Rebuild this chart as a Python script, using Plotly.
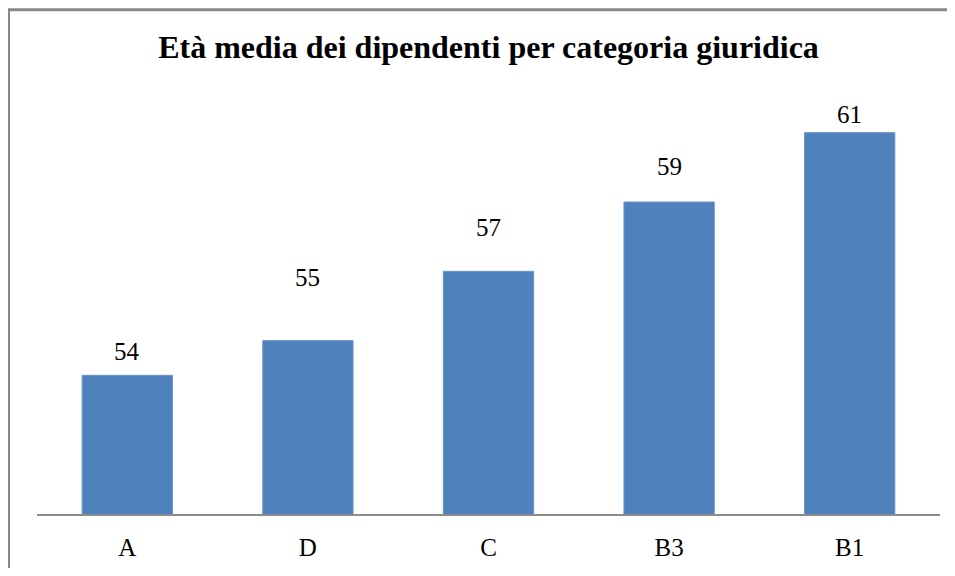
import plotly.graph_objects as go

categorie = ["A", "D", "C", "B3", "B1"]
eta_media = [54, 55, 57, 59, 61]
# distanza (px) delle etichette sopra la barra, come nell'originale
label_shift = [24, 63, 44, 36, 18]

FONT = "Liberation Serif"
# la pagina html ha 8px di margine: la figura sta tra (8, 8) e (947, 568)
W, H = 939, 560
L, R, T, B = 29, 7, 90, 48

fig = go.Figure()
fig.add_trace(go.Bar(
    x=categorie, y=eta_media,
    marker=dict(color="#4F81BD", line=dict(color="#6a94c8", width=1)),
    width=0.5, hoverinfo="x+y",
))

for cat, val, sh in zip(categorie, eta_media, label_shift):
    fig.add_annotation(x=cat, y=val, text=str(val), showarrow=False,
                       yanchor="middle", yshift=sh,
                       font=dict(family=FONT, size=25, color="black"))

# cornice grigia del grafico (esce a destra e in basso)
pw, ph = W - L - R, H - T - B
fig.add_shape(type="rect", xref="paper", yref="paper",
              x0=(0.5 - L) / pw, x1=1.2, y0=-0.3, y1=(H - B - 0.5) / ph,
              line=dict(color="#878787", width=3), layer="below")

fig.update_layout(
    width=W, height=H,
    margin=dict(l=L, r=R, t=T, b=B),
    paper_bgcolor="white", plot_bgcolor="white",
    showlegend=False,
    title=dict(text="<b>Età media dei dipendenti per categoria giuridica</b>",
               x=0.5, xref="paper", xanchor="center", y=1 - 39 / H, yanchor="middle",
               font=dict(family=FONT, size=32, color="black")),
    xaxis=dict(showline=True, linecolor="#8c8c8c", linewidth=1.5,
               ticks="", ticklabelstandoff=10,
               tickfont=dict(family=FONT, size=25, color="black"),
               showgrid=False, zeroline=False, fixedrange=True),
    yaxis=dict(range=[50, 62], visible=False, showgrid=False,
               zeroline=False, fixedrange=True),
)

fig.write_html("out.html")
